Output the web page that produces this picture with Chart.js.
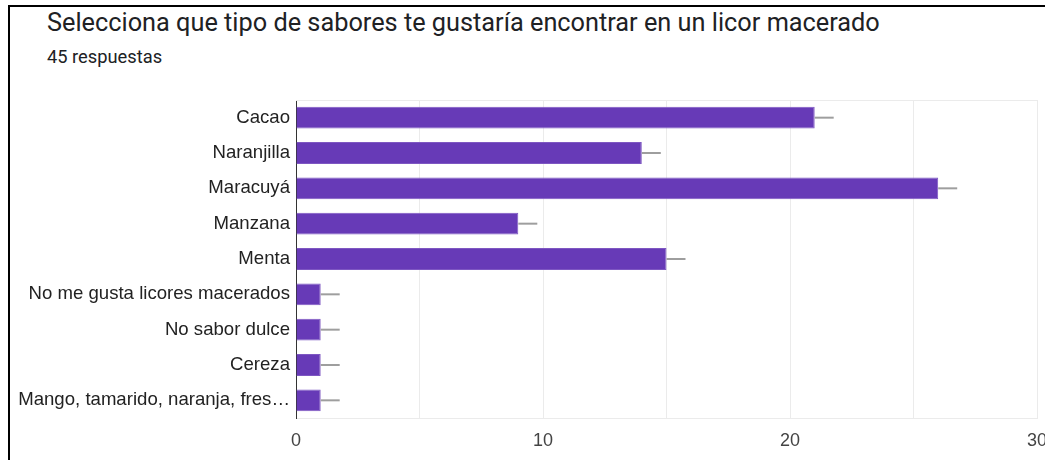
<!DOCTYPE html>
<html>
<head>
<meta charset="utf-8">
<script src="https://cdn.jsdelivr.net/npm/chart.js@4.4.0/dist/chart.umd.min.js"></script>
<style>
  body { margin: 0; width: 1045px; height: 460px; overflow: hidden; background: #fff; position: relative; }
  #frame { position: absolute; left: 8px; top: 5px; right: 0; bottom: 0; border-left: 2px solid #000; border-top: 2px solid #000; }
  #title { position: absolute; left: 47px; top: 9px; font: 25.3px Roboto, sans-serif; color: #202124; line-height: 28px; white-space: nowrap; }
  #subtitle { position: absolute; left: 47px; top: 47px; font: 18.3px Roboto, sans-serif; color: #202124; line-height: 20px; white-space: nowrap; }
  canvas { position: absolute; left: 0; top: 0; }
</style>
</head>
<body>
<div id="frame"></div>
<div id="title">Selecciona que tipo de sabores te gustaría encontrar en un licor macerado</div>
<div id="subtitle">45 respuestas</div>
<canvas id="chart" width="1045" height="460"></canvas>
<script>
const categories = [
    'Cacao', 'Naranjilla', 'Maracuyá', 'Manzana', 'Menta',
    'No me gusta licores macerados', 'No sabor dulce', 'Cereza',
    'Mango, tamarido, naranja, fres…'
];
const responses = [21, 14, 26, 9, 15, 1, 1, 1, 1];
const xTickLabels = [0, 10, 20, 30];

// gray whisker after each bar + light frame on top of the plot
const extras = {
    id: 'extras',
    afterDatasetsDraw(chart) {
        const ctx = chart.ctx;
        const area = chart.chartArea;
        ctx.save();
        ctx.strokeStyle = '#ebebeb';
        ctx.lineWidth = 1;
        ctx.beginPath();
        ctx.moveTo(area.left, area.top + 0.5);
        ctx.lineTo(area.right, area.top + 0.5);
        ctx.stroke();

        ctx.strokeStyle = '#9e9e9e';
        ctx.lineWidth = 2;
        chart.getDatasetMeta(0).data.forEach(bar => {
            ctx.beginPath();
            ctx.moveTo(bar.x, bar.y);
            ctx.lineTo(bar.x + 19, bar.y);
            ctx.stroke();
        });
        ctx.restore();
    }
};

new Chart(document.getElementById('chart').getContext('2d'), {
    type: 'bar',
    data: {
        labels: categories,
        datasets: [{
            data: responses,
            backgroundColor: '#673ab7',
            borderColor: '#7e57c2',
            borderWidth: 1,
            categoryPercentage: 0.62,
            barPercentage: 1
        }]
    },
    options: {
        indexAxis: 'y',
        responsive: false,
        animation: false,
        layout: { padding: { top: 100, right: 8, bottom: 0, left: 0 } },
        scales: {
            x: {
                min: 0,
                max: 30,
                afterFit: scale => {
                    scale.height = 42;
                    scale.paddingLeft = 0;
                    scale.paddingRight = 0;
                },
                grid: { color: '#ebebeb', drawTicks: false },
                border: { color: '#ebebeb' },
                ticks: {
                    stepSize: 5,
                    padding: 12,
                    color: '#444',
                    font: { family: 'Arial, "Liberation Sans"', size: 18 },
                    callback: v => xTickLabels.includes(v) ? v : ''
                }
            },
            y: {
                afterFit: scale => { scale.width = 296; },
                grid: { display: false, drawTicks: false },
                border: { color: '#333', width: 1 },
                ticks: {
                    padding: 6,
                    color: '#222',
                    font: { family: 'Arial, "Liberation Sans"', size: 18.6 }
                }
            }
        },
        plugins: {
            legend: { display: false },
            tooltip: { enabled: false }
        }
    },
    plugins: [extras]
});
</script>
</body>
</html>
